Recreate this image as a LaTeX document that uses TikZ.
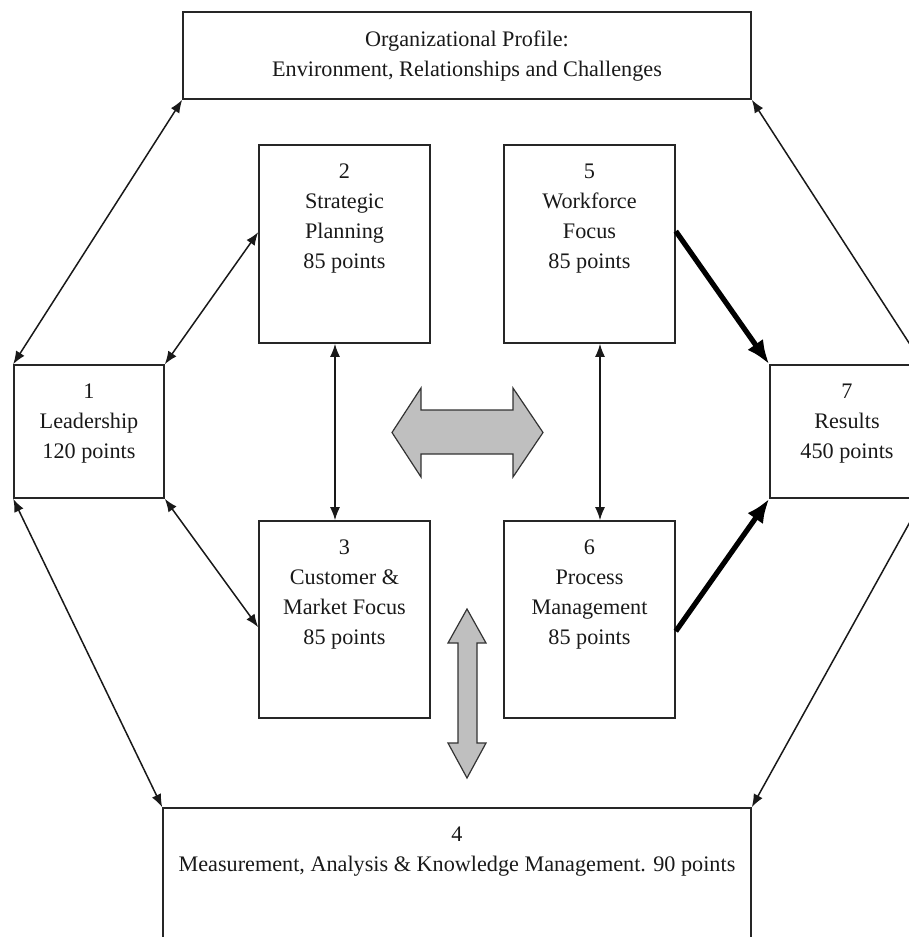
\documentclass[tikz,border=0pt]{standalone}
\usepackage{fontspec}
\setmainfont{Liberation Serif}
\usetikzlibrary{arrows.meta,calc}
\begin{document}
\begin{tikzpicture}[x=0.5pt,y=-0.5pt,
  box/.style={draw=black!85, line width=0.8pt, inner sep=0pt},
  lbl/.style={anchor=north, align=center, inner sep=0pt,
              font=\fontsize{11.1pt}{15pt}\selectfont, text=black!90},
  link/.style={line width=0.75pt, draw=black!90,
               {Latex[length=6.5pt,width=5pt]}-{Latex[length=6.5pt,width=5pt]}},
  feed/.style={line width=2.6pt, draw=black,
               -{Latex[length=12pt,width=9.5pt]}},
  fat/.style={fill=black!25, draw=black!80, line width=0.6pt, line join=miter}]

\useasboundingbox (0,0) rectangle (909,937);
\clip (0,0) rectangle (909,937);

% category boxes
\node[box, minimum width=284pt, minimum height=43.5pt] (top) at (467,55.5) {};
\node[box, minimum width=75pt,  minimum height=66.5pt] (b1)  at (89,431.5) {};
\node[box, minimum width=76pt,  minimum height=66.5pt] (b7)  at (846,431.5) {};
\node[box, minimum width=85.5pt, minimum height=99pt]  (b2)  at (344.5,244) {};
\node[box, minimum width=85.5pt, minimum height=99pt]  (b5)  at (589.5,244) {};
\node[box, minimum width=85.5pt, minimum height=98.5pt] (b3) at (344.5,619.5) {};
\node[box, minimum width=85.5pt, minimum height=98.5pt] (b6) at (589.5,619.5) {};
\node[box, minimum width=294pt, minimum height=80pt]   (b4)  at (457,888) {};

% box texts
\node[lbl] (ttop) at ($(top.north)+(0,19)$) {Organizational Profile:\\Environment, Relationships and Challenges};
\node[lbl] (t1) at ($(b1.north)+(0,19.5)$) {1\\Leadership\\120 points};
\node[lbl] (t7) at ($(b7.north)+(1,19.5)$) {7\\Results\\450 points};
\node[lbl] (t2) at ($(b2.north)+(0,19.5)$) {2\\Strategic\\Planning\\85 points};
\node[lbl] (t5) at ($(b5.north)+(0,19.5)$) {5\\Workforce\\Focus\\85 points};
\node[lbl] (t3) at ($(b3.north)+(0,19.5)$) {3\\Customer \&\\Market Focus\\85 points};
\node[lbl] (t6) at ($(b6.north)+(0,19.5)$) {6\\Process\\Management\\85 points};
\node[lbl] (t4) at ($(b4.north)+(0,19.5)$) {4\\Measurement, Analysis \& Knowledge Management. 90 points};

% attachment points on box sides
\coordinate (p2) at ($(b2.north west)+(0,88)$);
\coordinate (p3) at ($(b3.north west)+(0,107)$);
\coordinate (p5) at ($(b5.north east)+(0,87)$);
\coordinate (p6) at ($(b6.north east)+(0,111)$);

% two-way links
\draw[link] (b1.north west) -- (top.south west);
\draw[link] (b7.north east) -- (top.south east);
\draw[link] (b1.south west) -- (b4.north west);
\draw[link] (b7.south east) -- (b4.north east);
\draw[link] (b1.north east) -- (p2);
\draw[link] (b1.south east) -- (p3);
\draw[link] ($(b2.south)+(-9.5,0)$) -- ($(b3.north)+(-9.5,0)$);
\draw[link] ($(b5.south)+(10.5,0)$) -- ($(b6.north)+(10.5,0)$);

% heavy arrows into results
\draw[feed] (p5) -- (b7.north west);
\draw[feed] (p6) -- (b7.south west);

% block arrows
\draw[fat] (392,432.5) -- (421,388) -- (421,410) -- (513,410) -- (513,388)
  -- (543,432.5) -- (513,477) -- (513,454) -- (421,454) -- (421,477) -- cycle;
\draw[fat] (467,609) -- (486,643) -- (477,643) -- (477,743) -- (486,743)
  -- (467,778) -- (448,743) -- (458,743) -- (458,643) -- (448,643) -- cycle;
\end{tikzpicture}
\end{document}
